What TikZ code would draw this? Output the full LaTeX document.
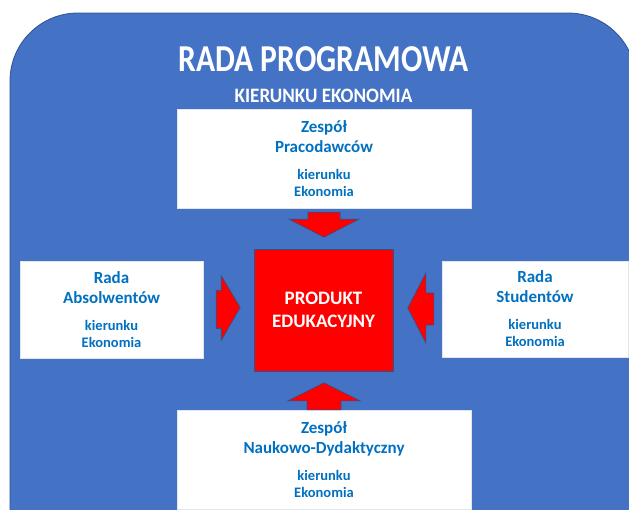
\documentclass[tikz,border=0pt]{standalone}
\usepackage{fontspec}
\usepackage{graphicx}
\setmainfont{Carlito}
\usetikzlibrary{positioning,calc}
\definecolor{tlo}{HTML}{4472C4}
\definecolor{obrys}{HTML}{2F528F}
\definecolor{napis}{HTML}{0070C0}
\definecolor{czerwony}{HTML}{FF0000}
\newcommand{\nazwa}{\fontsize{17}{20}\selectfont}
\newcommand{\dopis}{\fontsize{14.5}{20}\selectfont}

\begin{document}
\begin{tikzpicture}
                [%%%%%%%%%%%%%%%%%%%%%%%%%%%%%%%%%%%%%%%%%%%%%%%%%%%%%%%%%%
                    x=1pt,y=-1pt,
                    box/.style={rectangle,fill=white,draw=white!85!obrys,line width=.4pt,
                                minimum width=294pt,minimum height=99pt,inner sep=0pt,
                                align=center,text=napis,font=\bfseries\fontsize{17}{20}\selectfont},
                    produkt/.style={rectangle,fill=czerwony,draw=obrys,line width=.6pt,
                                minimum width=139pt,minimum height=122pt,inner sep=0pt,
                                align=center,text=white,font=\bfseries\fontsize{19}{23}\selectfont},
                    blok/.style={fill=czerwony,draw=obrys,line width=.6pt,line join=miter}
                ]%%%%%%%%%%%%%%%%%%%%%%%%%%%%%%%%%%%%%%%%%%%%%%%%%%%%%%%%%%
                \useasboundingbox (0,0) rectangle (629,509);
                \clip (0,0) rectangle (629,509);
                \draw[fill=tlo,draw=obrys,line width=.8pt,rounded corners=68pt] (10,13) rectangle (636,600);

                \node[anchor=base,text=white,font=\bfseries\fontsize{38}{40}\selectfont] (tytul) at (323.5,71) {\scalebox{0.83}[1]{RADA PROGRAMOWA}};
                \node[anchor=base,text=white,font=\bfseries\fontsize{20.5}{24}\selectfont] (kierunek) at (323.5,102) {\scalebox{0.93}[1]{KIERUNKU EKONOMIA}};

                \node[box] (prac) at (324,158.5) {\nazwa Zespół\\\nazwa Pracodawców\\[7pt]\dopis kierunku\\[-3pt]\dopis Ekonomia};
                \node[box,minimum width=183pt,minimum height=97pt] (absol) at (111.5,309.5) {\nazwa Rada\\\nazwa Absolwentów\\[7pt]\dopis kierunku\\[-3pt]\dopis Ekonomia};
                \node[box,minimum width=186pt,minimum height=96pt] (stud) at (535,309) {\nazwa Rada\\\nazwa Studentów\\[7pt]\dopis kierunku\\[-3pt]\dopis Ekonomia};
                \node[box] (nauk) at (324,459.5) {\nazwa Zespół\\\nazwa Naukowo-Dydaktyczny\\[7pt]\dopis kierunku\\[-3pt]\dopis Ekonomia};
                \node[produkt] (prod) at (323.5,310) {PRODUKT\\EDUKACYJNY};

                % strzalki
                \draw[blok] ($(prac.south)+(-16,4)$) -- ($(prac.south)+(16,4)$) -- ($(prac.south)+(16,11)$) -- ($(prac.south)+(35,11)$)
                    -- ($(prac.south)+(0,29)$) -- ($(prac.south)+(-35,11)$) -- ($(prac.south)+(-16,11)$) -- cycle;
                \draw[blok] ($(nauk.north)+(-17,0)$) -- ($(nauk.north)+(17,0)$) -- ($(nauk.north)+(17,-9)$) -- ($(nauk.north)+(36,-9)$)
                    -- ($(nauk.north)+(0,-27)$) -- ($(nauk.north)+(-36,-9)$) -- ($(nauk.north)+(-17,-9)$) -- cycle;
                \draw[blok] ($(absol.east)+(13,-19)$) -- ($(absol.east)+(18,-19)$) -- ($(absol.east)+(18,-34)$) -- ($(absol.east)+(37,-2)$)
                    -- ($(absol.east)+(18,31)$) -- ($(absol.east)+(18,19)$) -- ($(absol.east)+(13,19)$) -- cycle;
                \draw[blok] ($(stud.west)+(-8,-16)$) -- ($(stud.west)+(-16,-16)$) -- ($(stud.west)+(-16,-36)$) -- ($(stud.west)+(-34,-1)$)
                    -- ($(stud.west)+(-16,34)$) -- ($(stud.west)+(-16,16)$) -- ($(stud.west)+(-8,16)$) -- cycle;
            \end{tikzpicture}
\end{document}
